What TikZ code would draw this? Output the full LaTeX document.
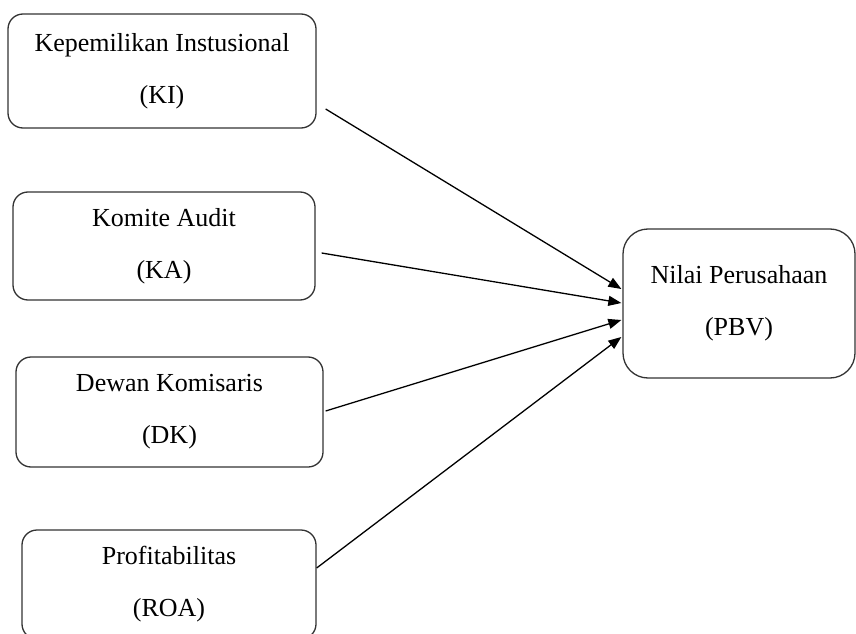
\documentclass[tikz,border=0pt]{standalone}
\usepackage{fontspec}
\setmainfont{Liberation Serif}
\usetikzlibrary{calc,arrows.meta}

\tikzset{
  varbox/.style={draw=black!80,line width=1.3pt,rounded corners=15pt,inner sep=0pt,
    align=center,font=\fontsize{26}{52}\selectfont},
  arr/.style={line width=1.3pt,-{Triangle[length=13pt,width=10pt]}}
}

\begin{document}
\begin{tikzpicture}[x=1pt,y=1pt]
	\clip (0,0) rectangle (856,633);
	% the four independent variables
	\node[varbox,minimum width=308pt,minimum height=114pt] (ki) at (162,562) {Kepemilikan Instusional\\(KI)};
	\node[varbox,minimum width=302pt,minimum height=108pt] (ka) at (164,387) {Komite Audit\\(KA)};
	\node[varbox,minimum width=307pt,minimum height=110pt] (dk) at (169.5,221) {Dewan Komisaris\\(DK)};
	\node[varbox,minimum width=294pt,minimum height=109pt] (roa) at (169,48.5) {Profitabilitas\\(ROA)};
	% the dependent variable
	\node[varbox,rounded corners=25pt,minimum width=232pt,minimum height=149pt] (pbv) at (739,329.5) {Nilai Perusahaan\\(PBV)};
	% the arrows
	\draw[arr] ($(ki.east)+(9,-38)$) -- ($(pbv.west)+(-1,14.5)$);
	\draw[arr] ($(ka.east)+(6,-7)$) -- ($(pbv.west)+(-1,0.5)$);
	\draw[arr] ($(dk.east)+(2,1)$) -- ($(pbv.west)+(-1,-16.5)$);
	\draw[arr] ($(roa.east)+(0,16.5)$) -- ($(pbv.west)+(-1,-33.5)$);
\end{tikzpicture}
\end{document}
